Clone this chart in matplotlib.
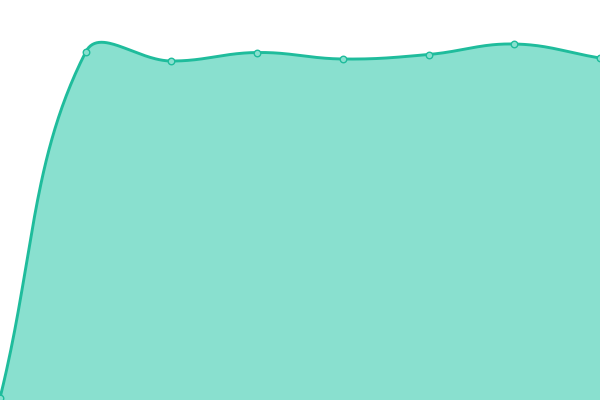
import numpy as np
import matplotlib
matplotlib.use("Agg")
import matplotlib.pyplot as plt

# data points (index, value)
labels = [0, 1, 2, 3, 4, 5, 6, 7]
values = [2, 348, 339, 347.5, 341, 345.5, 356, 342]

line_color = "#1fbc9c"
fill_color = "#89e0cf"
tension = 0.4

def control_points(xs, ys, t):
    #chart.js style spline control points
    pts = np.column_stack([xs, ys]).astype(float)
    n = len(pts)
    cps = []
    for i in range(n):
        p0 = pts[max(i - 1, 0)]
        p1 = pts[i]
        p2 = pts[min(i + 1, n - 1)]
        d01 = np.hypot(*(p1 - p0))
        d12 = np.hypot(*(p2 - p1))
        tot = d01 + d12
        s01 = d01 / tot if tot else 0
        s12 = d12 / tot if tot else 0
        cp_prev = p1 - t * s01 * (p2 - p0)
        cp_next = p1 + t * s12 * (p2 - p0)
        cps.append((cp_prev, cp_next))
    return pts, cps

def bezier_path(pts, cps, steps=60):
    out = []
    u = np.linspace(0, 1, steps)[:, None]
    for i in range(len(pts) - 1):
        a = pts[i]
        b = cps[i][1]
        c = cps[i + 1][0]
        d = pts[i + 1]
        seg = ((1 - u) ** 3) * a + 3 * ((1 - u) ** 2) * u * b + 3 * (1 - u) * u ** 2 * c + u ** 3 * d
        out.append(seg)
    return np.vstack(out)

fig = plt.figure(figsize=(6, 4), dpi=100)
ax = fig.add_axes([0, 0, 1, 1])

# work in pixel-like space so tension behaves like on the canvas
px = np.array(labels) * 600 / 7
pts, cps = control_points(px, np.array(values), tension)
curve = bezier_path(pts, cps)

poly_x = np.concatenate([curve[:, 0], [600, 0]])
poly_y = np.concatenate([curve[:, 1], [0, 0]])
ax.fill(poly_x, poly_y, color=fill_color, lw=0)
ax.plot(curve[:, 0], curve[:, 1], color=line_color, lw=2.1, solid_capstyle="round")
ax.scatter(px, values, s=22, facecolor=fill_color, edgecolor=line_color, linewidth=1, zorder=3)

ax.set_xlim(0, 600)
ax.set_ylim(0, 400)
ax.axis("off")

fig.savefig("out.png", dpi=100)
